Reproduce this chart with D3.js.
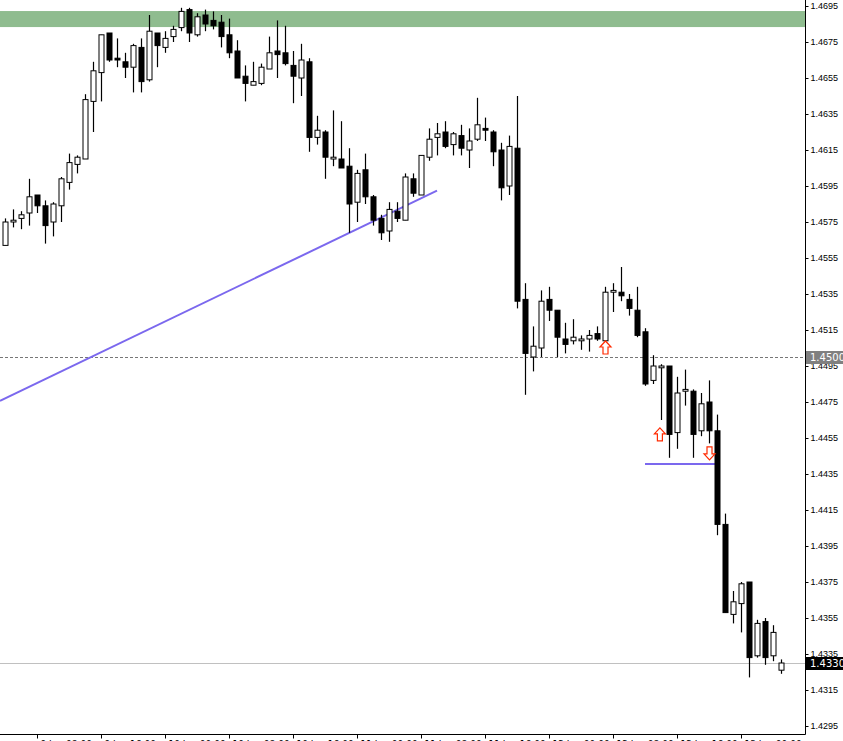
<!DOCTYPE html>
<html><head><meta charset="utf-8">
<script src="https://cdn.jsdelivr.net/npm/d3@7"></script>
<style>body{margin:0;background:#fff}svg{display:block}</style>
</head><body>
<script>
// OHLC, one entry per bar
var opens = [1.4562,1.4575,1.4577,1.4580,1.4590,1.4584,1.4575,1.4584,1.4597,1.4607,1.4610,1.4642,1.4658,1.4680,1.4666,1.4664,1.4661,1.4672,1.4654,1.4680,
 1.4672,1.4678,1.4683,1.4693,1.4679,1.4690,1.4687,1.4686,1.4679,1.4670,1.4656,1.4651,1.4652,1.4660,1.4670,1.4669,1.4662,1.4655,1.4664,1.4622,
 1.4625,1.4610,1.4610,1.4606,1.4586,1.4604,1.4589,1.4577,1.4570,1.4581,1.4576,1.4599,1.4590,1.4611,1.4622,1.4625,1.4618,1.4623,1.4615,1.4621,
 1.4627,1.4625,1.4615,1.4595,1.4616,1.4532,1.4500,1.4505,1.4532,1.4526,1.4510,1.4509,1.4509,1.4510,1.4513,1.4509,1.4536,1.4536,1.4532,1.4526,
 1.4514,1.4487,1.4494,1.4495,1.4458,1.4481,1.4481,1.4459,1.4475,1.4459,1.4407,1.4357,1.4363,1.4375,1.4334,1.4353,1.4334,1.4326];
var highs = [1.4577,1.4582,1.4581,1.4599,1.4590,1.4587,1.4586,1.4600,1.4613,1.4612,1.4646,1.4664,1.4679,1.4680,1.4677,1.4669,1.4674,1.4677,1.4690,1.4680,
 1.4681,1.4684,1.4694,1.4694,1.4691,1.4693,1.4692,1.4690,1.4688,1.4676,1.4662,1.4664,1.4663,1.4678,1.4687,1.4684,1.4670,1.4674,1.4666,1.4634,
 1.4626,1.4637,1.4631,1.4616,1.4604,1.4613,1.4590,1.4579,1.4586,1.4586,1.4602,1.4602,1.4612,1.4627,1.4630,1.4631,1.4625,1.4629,1.4627,1.4644,
 1.4633,1.4626,1.4619,1.4623,1.4645,1.4541,1.4517,1.4537,1.4539,1.4526,1.4519,1.4521,1.4512,1.4515,1.4517,1.4539,1.4541,1.4550,1.4535,1.4539,
 1.4516,1.4501,1.4496,1.4495,1.4489,1.4493,1.4482,1.4480,1.4487,1.4468,1.4413,1.4370,1.4375,1.4375,1.4354,1.4355,1.4351,1.4332];
var lows = [1.4562,1.4572,1.4571,1.4573,1.4580,1.4563,1.4567,1.4575,1.4593,1.4602,1.4610,1.4625,1.4642,1.4664,1.4661,1.4655,1.4647,1.4647,1.4653,1.4661,
 1.4669,1.4675,1.4681,1.4675,1.4678,1.4681,1.4682,1.4672,1.4666,1.4655,1.4642,1.4651,1.4651,1.4660,1.4655,1.4662,1.4641,1.4645,1.4614,1.4618,
 1.4599,1.4606,1.4605,1.4569,1.4575,1.4585,1.4573,1.4565,1.4564,1.4575,1.4576,1.4589,1.4590,1.4609,1.4612,1.4616,1.4612,1.4612,1.4605,1.4620,
 1.4620,1.4606,1.4587,1.4590,1.4527,1.4479,1.4492,1.4500,1.4520,1.4500,1.4502,1.4507,1.4504,1.4503,1.4509,1.4509,1.4525,1.4531,1.4523,1.4511,
 1.4484,1.4485,1.4465,1.4444,1.4449,1.4473,1.4444,1.4456,1.4452,1.4401,1.4358,1.4352,1.4347,1.4322,1.4333,1.4329,1.4331,1.4324];
var closes = [1.4575,1.4576,1.4579,1.4589,1.4584,1.4573,1.4585,1.4599,1.4608,1.4611,1.4643,1.4659,1.4679,1.4665,1.4665,1.4661,1.4673,1.4653,1.4681,1.4673,
 1.4677,1.4682,1.4692,1.4680,1.4689,1.4685,1.4684,1.4678,1.4669,1.4655,1.4652,1.4653,1.4661,1.4669,1.4668,1.4663,1.4656,1.4665,1.4622,1.4626,
 1.4611,1.4611,1.4605,1.4585,1.4602,1.4589,1.4576,1.4569,1.4582,1.4577,1.4600,1.4591,1.4612,1.4621,1.4624,1.4617,1.4624,1.4616,1.4620,1.4629,
 1.4626,1.4614,1.4594,1.4617,1.4531,1.4502,1.4506,1.4531,1.4526,1.4511,1.4507,1.4511,1.4510,1.4512,1.4510,1.4536,1.4537,1.4534,1.4527,1.4512,
 1.4485,1.4495,1.4495,1.4457,1.4480,1.4482,1.4457,1.4474,1.4459,1.4407,1.4358,1.4364,1.4374,1.4333,1.4352,1.4333,1.4347,1.4330];

var yTicks = [1.4695,1.4675,1.4655,1.4635,1.4615,1.4595,1.4575,1.4555,1.4535,1.4515,1.4495,1.4475,1.4455,1.4435,1.4415,1.4395,1.4375,1.4355,1.4335,1.4315,1.4295];
var timeTicks = [4, 12, 20, 28, 36, 44, 52, 60, 68, 76, 84, 92];
var timeLabels = ["9 Jun 08:00","9 Jun 16:00","10 Jun 00:00","10 Jun 08:00","10 Jun 16:00","11 Jun 00:00","11 Jun 08:00","11 Jun 16:00","12 Jun 00:00","12 Jun 08:00","12 Jun 16:00","13 Jun 00:00"];
var zoneTop = 1.46922, zoneBottom = 1.46833;
var trendLine = [[-0.625, 1.44756], [54, 1.45924]];
var levelLine = [[80, 1.44405], [89, 1.44405]];
// arrows: [bar index, price at the tip]
var upArrows = [[75, 1.45089], [81.8, 1.44606]];
var downArrows = [[88, 1.44428]];
var askLevel = 1.4500, bidLevel = 1.4330;

var W = 843, H = 741, plotR = 805, plotB = 734;
var x = d3.scaleLinear().domain([0, 1]).range([5, 13]);
var y = d3.scaleLinear().domain([1.4295, 1.4695]).range([726, 6]);

var svg = d3.select("body").append("svg").attr("width", W).attr("height", H)
    .style("font-family", "Tahoma, 'DejaVu Sans', sans-serif");

svg.append("rect").attr("x", 0).attr("y", y(zoneTop)).attr("width", plotR)
    .attr("height", y(zoneBottom) - y(zoneTop)).attr("fill", "#8fbc8f");

svg.append("line").attr("x1", 0).attr("x2", plotR).attr("y1", Math.round(y(askLevel)) + 0.5).attr("y2", Math.round(y(askLevel)) + 0.5)
    .attr("stroke", "#777").attr("stroke-dasharray", "3,2");
svg.append("line").attr("x1", 0).attr("x2", plotR).attr("y1", Math.round(y(bidLevel)) + 0.5).attr("y2", Math.round(y(bidLevel)) + 0.5)
    .attr("stroke", "#c0c0c0");

var line = d3.line().x(d => x(d[0])).y(d => y(d[1]));
svg.append("path").attr("d", line(trendLine)).attr("stroke", "#7b68ee").attr("stroke-width", 2).attr("fill", "none");
svg.append("path").attr("d", line(levelLine)).attr("stroke", "#7b68ee").attr("stroke-width", 2).attr("fill", "none");

var bars = opens.map((o, i) => ({ i: i, o: o, h: highs[i], l: lows[i], c: closes[i] }));

var g = svg.append("g");
g.selectAll(".wick").data(bars).enter().append("line")
    .attr("x1", d => Math.round(x(d.i)) + 0.5).attr("x2", d => Math.round(x(d.i)) + 0.5)
    .attr("y1", d => y(d.h)).attr("y2", d => y(d.l))
    .attr("stroke", "#000").attr("stroke-width", 1.2);
g.selectAll(".body").data(bars).enter().append("rect")
    .attr("x", d => Math.round(x(d.i)) - 2)
    .attr("y", d => y(Math.max(d.o, d.c)))
    .attr("width", 5)
    .attr("height", d => Math.max(1, Math.abs(y(d.o) - y(d.c))))
    .attr("fill", d => d.c >= d.o ? "#fff" : "#000")
    .attr("stroke", "#000").attr("stroke-width", 1);

function arrowPath(up) {
    var s = up ? 1 : -1;
    return "M0,0 L5.5," + 6 * s + " L2.5," + 6 * s + " L2.5," + 13 * s + " L-2.5," + 13 * s + " L-2.5," + 6 * s + " L-5.5," + 6 * s + " Z";
}
upArrows.forEach(function (a) {
    svg.append("path").attr("d", arrowPath(true))
        .attr("transform", "translate(" + (x(a[0]) + 0.5) + "," + y(a[1]) + ")")
        .attr("fill", "#fff").attr("stroke", "#ff2a00").attr("stroke-width", 1.2);
});
downArrows.forEach(function (a) {
    svg.append("path").attr("d", arrowPath(false))
        .attr("transform", "translate(" + (x(a[0]) + 0.5) + "," + y(a[1]) + ")")
        .attr("fill", "#fff").attr("stroke", "#ff2a00").attr("stroke-width", 1.2);
});

// right axis
var yAxis = d3.axisRight(y).tickValues(yTicks).tickSize(3).tickFormat(d3.format(".4f"));
var ya = svg.append("g").attr("transform", "translate(" + (plotR + 0.5) + ",0)").call(yAxis);
ya.selectAll("text").style("font-size", "9px").attr("x", 5).attr("fill", "#000");
ya.select(".domain").attr("stroke", "#000").attr("d", "M0,0V" + (plotB + 0.5));

// bottom axis (labels cut by the window edge, as in the original)
var xa = svg.append("g").attr("transform", "translate(0," + (plotB + 0.5) + ")");
xa.append("line").attr("x1", 0).attr("x2", plotR + 0.5).attr("stroke", "#000");
timeTicks.forEach(function (t, k) {
    var px = Math.round(x(t)) + 0.5;
    xa.append("line").attr("x1", px).attr("x2", px).attr("y1", 0).attr("y2", 4).attr("stroke", "#000");
    xa.append("text").attr("x", px + 3).attr("y", 12).style("font-size", "9px").text(timeLabels[k]);
});

function priceTag(p, bg, fg) {
    var yy = Math.round(y(p));
    svg.append("rect").attr("x", plotR + 1).attr("y", yy - 6).attr("width", W - plotR).attr("height", 13).attr("fill", bg);
    svg.append("text").attr("x", plotR + 5).attr("y", yy + 4).style("font-size", "10px").attr("fill", fg).text(d3.format(".4f")(p));
}
priceTag(askLevel, "#808080", "#fff");
priceTag(bidLevel, "#000", "#fff");
</script>
</body></html>
